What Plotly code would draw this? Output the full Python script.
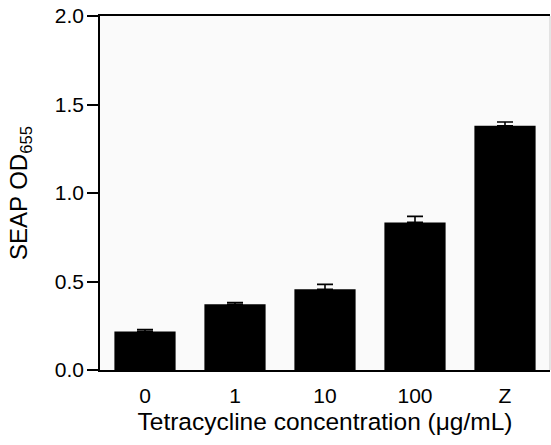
import plotly.graph_objects as go

categories = ["0", "1", "10", "100", "Z"]
values = [0.218, 0.371, 0.456, 0.834, 1.380]
errors = [0.011, 0.010, 0.028, 0.034, 0.021]
y_ticks = [0.0, 0.5, 1.0, 1.5, 2.0]
y_tick_labels = ["0.0", "0.5", "1.0", "1.5", "2.0"]

font_family = "Liberation Sans, Arial, sans-serif"

fig = go.Figure()
fig.add_trace(go.Bar(
    x=categories,
    y=values,
    width=0.68,
    marker=dict(color="black", line=dict(width=0)),
    error_y=dict(type="data", array=errors, arrayminus=[0]*len(errors), symmetric=False,
                 color="black", thickness=1.6, width=8),
))

fig.update_layout(
    template="none",
    width=551, height=445,
    margin=dict(l=100, r=1, t=16, b=75),
    paper_bgcolor="white",
    plot_bgcolor="#fafafa",
    showlegend=False,
    font=dict(family=font_family, size=21, color="black"),
    xaxis=dict(
        type="category",
        range=[-0.5, 4.5],
        showline=True, linecolor="black", linewidth=1.5, mirror=True,
        ticks="", showgrid=False, zeroline=False,
        tickfont=dict(size=21, color="black"),
        ticklabelstandoff=6,
        title=dict(text="Tetracycline concentration (\u03bcg/mL)", font=dict(size=24.5, color="black"), standoff=7),
    ),
    yaxis=dict(
        range=[0, 2.0],
        tickvals=y_ticks, ticktext=y_tick_labels,
        showline=True, linecolor="black", linewidth=1.5,
        ticks="outside", ticklen=11, tickwidth=1.5, tickcolor="black",
        showgrid=False, zeroline=False,
        tickfont=dict(size=21, color="black"),
        ticklabelstandoff=-1,
        title=dict(text="SEAP OD<sub>655</sub>", font=dict(size=24, color="black"), standoff=20),
    ),
    shapes=[dict(type="line", xref="paper", yref="paper", x0=1, x1=1, y0=0, y1=1,
                 line=dict(color="#cccccc", width=1))],
)

fig.write_html("out.html")
